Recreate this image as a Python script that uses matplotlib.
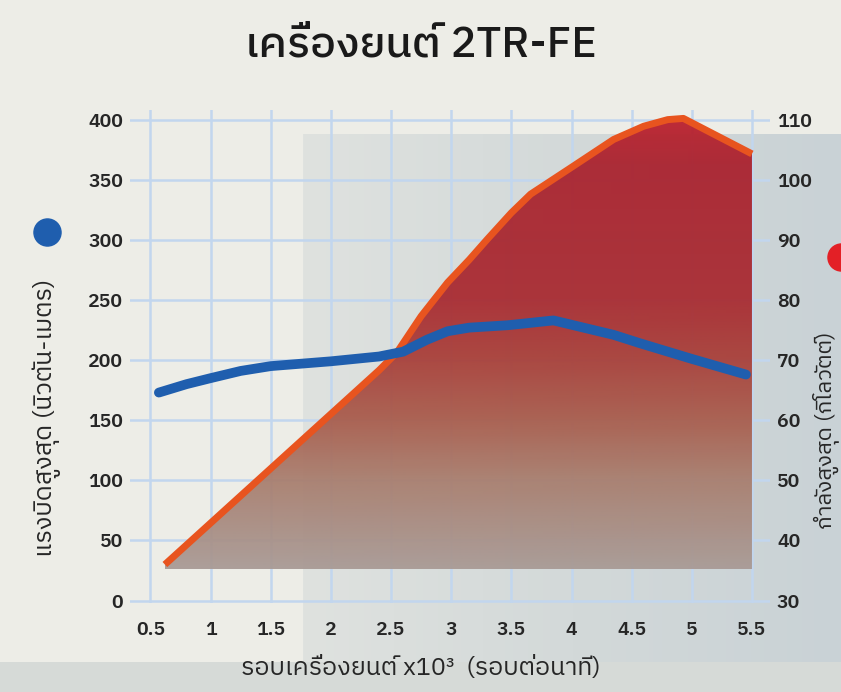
import numpy as np
import matplotlib
matplotlib.use("Agg")
import matplotlib.pyplot as plt
from matplotlib import font_manager, ft2font
from matplotlib.colors import LinearSegmentedColormap
from matplotlib.patches import Rectangle

# find a font that has Thai glyphs
thai_fonts = []
for f in font_manager.fontManager.ttflist:
    try:
        cmap = ft2font.FT2Font(f.fname).get_charmap()
    except Exception:
        continue
    if 0x0E40 in cmap and 0x0E23 in cmap and 0x0E4C in cmap:
        thai_fonts.append(f.name)
thai_fonts = sorted(set(thai_fonts), key=lambda n: (0 if "Sans" in n else 1, n))
families = thai_fonts[:1] + ["DejaVu Sans"]
plt.rcParams["font.family"] = families

# data
title = "เครื่องยนต์ 2TR-FE"
xlabel = "รอบเครื่องยนต์ x10³  (รอบต่อนาที)"
ylabel_left = "แรงบิดสูงสุด (นิวตัน-เมตร)"
ylabel_right = "กำลังสูงสุด (กิโลวัตต์)"

x_ticks = [0.5, 1, 1.5, 2, 2.5, 3, 3.5, 4, 4.5, 5, 5.5]
x_labels = ["0.5", "1", "1.5", "2", "2.5", "3", "3.5", "4", "4.5", "5", "5.5"]
torque_ticks = [0, 50, 100, 150, 200, 250, 300, 350, 400]
power_ticks = [30, 40, 50, 60, 70, 80, 90, 100, 110]

rpm_torque = [0.57, 0.8, 1.0, 1.25, 1.5, 2.0, 2.4, 2.6, 2.8, 2.97, 3.15, 3.47, 3.85, 4.35, 4.57, 5.0, 5.45]
torque = [173, 180, 185, 191, 195, 199, 203, 207, 217, 224, 227, 229, 233, 221, 214, 201, 188]

rpm_power = [0.62, 2.4, 2.55, 2.75, 2.97, 3.15, 3.30, 3.5, 3.66, 4.01, 4.35, 4.6, 4.8, 4.93, 5.5]
power = [36, 68.3, 71.3, 77.3, 82.9, 86.7, 90.1, 94.5, 97.6, 102.2, 106.7, 108.9, 110.0, 110.2, 104.3]
power_base = 35.2

fig = plt.figure(figsize=(8.41, 6.92), dpi=100)
fig.patch.set_facecolor("#ebebe5")

# background panels
bg = fig.add_axes([0, 0, 1, 1], zorder=-5)
bg.set_xlim(0, 1)
bg.set_ylim(0, 1)
bg.axis("off")
bg.add_patch(Rectangle((0, 0.043), 1, 0.96, color="#edede7", lw=0))
grad = np.linspace(0, 1, 256).reshape(1, -1)
box_cmap = LinearSegmentedColormap.from_list("box", ["#dfe2df", "#d3d9d9", "#c9d2d6"])
bg.imshow(grad, cmap=box_cmap, extent=[0.36, 1, 0, 0.805], aspect="auto", zorder=1)
bg.add_patch(Rectangle((0, 0), 1, 0.043, color="#d6dad7", lw=0, zorder=2))

ax = fig.add_axes([130 / 841, 1 - 603 / 692, 640 / 841, 493 / 692])
ax.set_xlim(0.33, 5.65)
ax.set_ylim(-2, 408)
ax.patch.set_visible(False)
for s in ax.spines.values():
    s.set_visible(False)
ax.set_xticks(x_ticks)
ax.set_xticklabels(x_labels)
ax.set_yticks(torque_ticks)
ax.tick_params(length=0, labelsize=14, colors="#262626")
ax.tick_params(axis="x", pad=13)
ax.tick_params(axis="y", pad=5)
for lab in ax.get_xticklabels() + ax.get_yticklabels():
    lab.set_fontweight("semibold")
ax.grid(True, color="#c2d6ee", lw=1.8)

ax2 = ax.twinx()
ax2.set_ylim(30 - 2 / 5, 30 + 408 / 5)
ax2.set_yticks(power_ticks)
for s in ax2.spines.values():
    s.set_visible(False)
ax2.tick_params(length=0, labelsize=14, colors="#262626", pad=5)
for lab in ax2.get_yticklabels():
    lab.set_fontweight("semibold")

# power area with vertical gradient
poly = ax2.fill_between(rpm_power, power, power_base, color="none", lw=0)
fill_cmap = LinearSegmentedColormap.from_list(
    "fill", [(0.0, "#a89a95"), (0.2, "#a87d6d"), (0.33, "#a85c4c"), (0.47, "#a83e38"),
             (0.6, "#a82a30"), (0.9, "#aa212d"), (1.0, "#bb1e2b")])
img = ax2.imshow(np.linspace(0, 1, 256).reshape(-1, 1), cmap=fill_cmap, origin="lower",
                 extent=[min(rpm_power), max(rpm_power), power_base, max(power)],
                 aspect="auto", alpha=0.94, zorder=1)
img.set_clip_path(poly.get_paths()[0], transform=ax2.transData)
ax2.set_xlim(0.33, 5.65)
ax2.set_ylim(30 - 2 / 5, 30 + 408 / 5)

ax2.plot(rpm_power, power, color="#e8541f", lw=5, solid_capstyle="butt",
         solid_joinstyle="round", zorder=3)
ax2.plot(rpm_torque, torque, color="#1f5eae", lw=7, solid_capstyle="round",
         solid_joinstyle="round", transform=ax.transData, zorder=4)

fig.text(0.5, 1 - 45 / 692, title, ha="center", va="center", fontsize=31,
         fontweight="medium", color="#1a1a1a")
fig.text(0.5, 1 - 668 / 692, xlabel, ha="center", va="center", fontsize=18, color="#262626")
fig.text(47 / 841, 1 - 418 / 692, ylabel_left, ha="center", va="center", rotation=90,
         fontsize=18, color="#262626")
fig.text(826 / 841, 1 - 430 / 692, ylabel_right, ha="center", va="center", rotation=90,
         fontsize=16, color="#262626")

# colour dots next to the axis titles
bg.scatter([47 / 841], [1 - 232 / 692], s=380, color="#1f5eae", zorder=5, clip_on=False)
bg.scatter([841 / 841], [1 - 257 / 692], s=380, color="#e32026", zorder=5, clip_on=False)

fig.savefig("out.png", dpi=100)
